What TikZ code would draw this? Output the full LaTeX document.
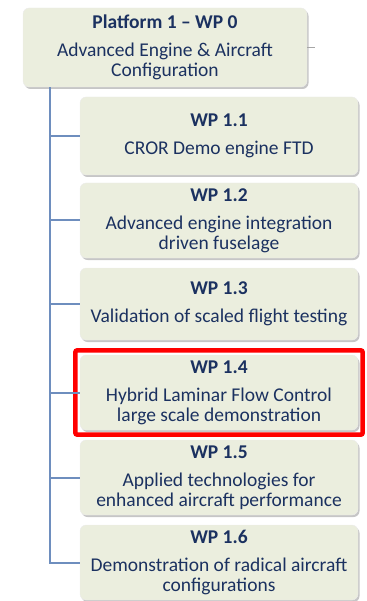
\documentclass[tikz,border=0pt]{standalone}
\usepackage{fontspec}
\setmainfont{Carlito}
\usepackage{tikz}
\usetikzlibrary{shadows,fit}

\definecolor{wpfill}{HTML}{EBEEDE}
\definecolor{wptext}{HTML}{1B3160}
\definecolor{wpline}{HTML}{6E8EBE}

\tikzset{
  wpbox/.style={rounded corners=6pt, fill=wpfill, draw=white!85!gray, thin,
    drop shadow={shadow xshift=1.5pt, shadow yshift=-2pt, opacity=0.45},
    text=wptext, align=center, inner sep=0pt,
    font=\fontsize{19.5}{20}\selectfont},
  branch/.style={draw=wpline, line width=2pt},
}

\newcommand{\wptitle}[1]{\textbf{#1}\\[8pt]}

\begin{document}
\begin{tikzpicture}[x=1pt,y=-1pt]
\useasboundingbox (0,0) rectangle (366,601);

\node[wpbox, minimum width=284pt, minimum height=79pt] (wp0) at (165,47.5)
  {\wptitle{Platform 1 -- WP 0}Advanced Engine \& Aircraft\\Configuration};
\draw[gray!70, line width=1.5pt] (wp0.east) -- ++(8,0);

\node[wpbox, minimum width=278pt, minimum height=78pt] (wp11) at (219,136)
  {\wptitle{WP 1.1}CROR Demo engine FTD};
\node[wpbox, minimum width=278pt, minimum height=75pt] (wp12) at (219,220.5)
  {\wptitle{WP 1.2}Advanced engine integration\\driven fuselage};
\node[wpbox, minimum width=278pt, minimum height=72pt] (wp13) at (219,304)
  {\wptitle{WP 1.3}Validation of scaled flight testing};
\node[wpbox, minimum width=278pt, minimum height=75pt] (wp14) at (219,392.5)
  {\wptitle{WP 1.4}Hybrid Laminar Flow Control\\large scale demonstration};
\node[wpbox, minimum width=278pt, minimum height=75pt] (wp15) at (219,477.5)
  {\wptitle{WP 1.5}Applied technologies for\\enhanced aircraft performance};
\node[wpbox, minimum width=278pt, minimum height=75pt] (wp16) at (219,562.5)
  {\wptitle{WP 1.6}Demonstration of radical aircraft\\configurations};

% highlight
\node[draw=red, line width=4.5pt, rounded corners=2pt, inner sep=4.5pt, fit=(wp14)] (mark) {};

% tree
\coordinate (trunk) at ([xshift=27pt]wp0.south west);
\draw[branch] (trunk) |- (wp16.west);
\foreach \n in {wp11,wp12,wp13,wp14,wp15}
  \draw[branch] (trunk |- \n.west) -- (\n.west);

\end{tikzpicture}
\end{document}
